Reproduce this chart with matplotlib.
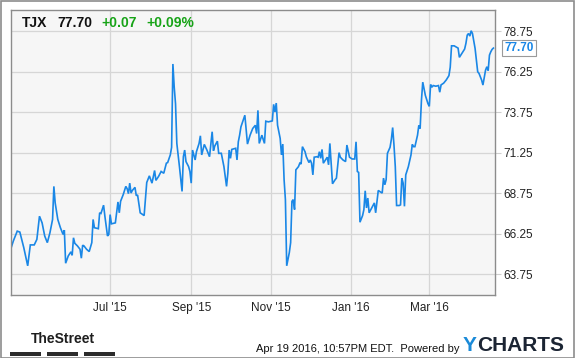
import matplotlib
matplotlib.use("Agg")
import matplotlib.pyplot as plt
import matplotlib.dates as mdates
import pandas as pd
from matplotlib.patches import Rectangle

# TJX daily close
dates = [
    "2015-04-16", "2015-04-18", "2015-04-21", "2015-04-23", "2015-04-26", "2015-04-29",
    "2015-05-01", "2015-05-04", "2015-05-06", "2015-05-08", "2015-05-10", "2015-05-12",
    "2015-05-14", "2015-05-16", "2015-05-18", "2015-05-19", "2015-05-20", "2015-05-22",
    "2015-05-24", "2015-05-26", "2015-05-27", "2015-05-28", "2015-05-30", "2015-06-01",
    "2015-06-02", "2015-06-03", "2015-06-04", "2015-06-06", "2015-06-08", "2015-06-09",
    "2015-06-10", "2015-06-11", "2015-06-13", "2015-06-15", "2015-06-17", "2015-06-18",
    "2015-06-19", "2015-06-22", "2015-06-23", "2015-06-24", "2015-06-26", "2015-06-27",
    "2015-06-29", "2015-06-30", "2015-07-01", "2015-07-02", "2015-07-05", "2015-07-07",
    "2015-07-08", "2015-07-09", "2015-07-11", "2015-07-13", "2015-07-14", "2015-07-15",
    "2015-07-16", "2015-07-17", "2015-07-18", "2015-07-20", "2015-07-21", "2015-07-22",
    "2015-07-24", "2015-07-27", "2015-07-29", "2015-07-31", "2015-08-02", "2015-08-04",
    "2015-08-05", "2015-08-07", "2015-08-09", "2015-08-11", "2015-08-13", "2015-08-14",
    "2015-08-16", "2015-08-17", "2015-08-18", "2015-08-19", "2015-08-20", "2015-08-21",
    "2015-08-23", "2015-08-25", "2015-08-26", "2015-08-27", "2015-08-28", "2015-08-30",
    "2015-08-31", "2015-09-01", "2015-09-02", "2015-09-04", "2015-09-05", "2015-09-07",
    "2015-09-08", "2015-09-09", "2015-09-11", "2015-09-13", "2015-09-15", "2015-09-17",
    "2015-09-18", "2015-09-19", "2015-09-21", "2015-09-22", "2015-09-24", "2015-09-26",
    "2015-09-28", "2015-09-29", "2015-09-30", "2015-10-01", "2015-10-02", "2015-10-05",
    "2015-10-06", "2015-10-07", "2015-10-08", "2015-10-09", "2015-10-12", "2015-10-14",
    "2015-10-16", "2015-10-18", "2015-10-20", "2015-10-21", "2015-10-22", "2015-10-23",
    "2015-10-25", "2015-10-27", "2015-10-28", "2015-10-30", "2015-11-02", "2015-11-03",
    "2015-11-04", "2015-11-05", "2015-11-06", "2015-11-08", "2015-11-09", "2015-11-10",
    "2015-11-11", "2015-11-12", "2015-11-13", "2015-11-15", "2015-11-16", "2015-11-17",
    "2015-11-18", "2015-11-19", "2015-11-20", "2015-11-22", "2015-11-23", "2015-11-24",
    "2015-11-25", "2015-11-27", "2015-11-28", "2015-11-30", "2015-12-01", "2015-12-02",
    "2015-12-03", "2015-12-04", "2015-12-06", "2015-12-07", "2015-12-08", "2015-12-09",
    "2015-12-10", "2015-12-11", "2015-12-13", "2015-12-14", "2015-12-15", "2015-12-16",
    "2015-12-18", "2015-12-20", "2015-12-21", "2015-12-23", "2015-12-24", "2015-12-26",
    "2015-12-28", "2015-12-29", "2015-12-31", "2016-01-02", "2016-01-04", "2016-01-05",
    "2016-01-06", "2016-01-07", "2016-01-08", "2016-01-10", "2016-01-11", "2016-01-12",
    "2016-01-13", "2016-01-14", "2016-01-15", "2016-01-17", "2016-01-19", "2016-01-20",
    "2016-01-22", "2016-01-23", "2016-01-25", "2016-01-26", "2016-01-27", "2016-01-28",
    "2016-01-29", "2016-01-31", "2016-02-01", "2016-02-02", "2016-02-03", "2016-02-04",
    "2016-02-05", "2016-02-07", "2016-02-08", "2016-02-09", "2016-02-10", "2016-02-11",
    "2016-02-12", "2016-02-14", "2016-02-16", "2016-02-17", "2016-02-18", "2016-02-19",
    "2016-02-21", "2016-02-22", "2016-02-23", "2016-02-24", "2016-02-25", "2016-02-27",
    "2016-02-29", "2016-03-01", "2016-03-02", "2016-03-03", "2016-03-04", "2016-03-06",
    "2016-03-08", "2016-03-09", "2016-03-10", "2016-03-12", "2016-03-14", "2016-03-16",
    "2016-03-17", "2016-03-18", "2016-03-20", "2016-03-23", "2016-03-24", "2016-03-28",
    "2016-03-29", "2016-03-30", "2016-03-31", "2016-04-01", "2016-04-02", "2016-04-03",
    "2016-04-05", "2016-04-07", "2016-04-08", "2016-04-10", "2016-04-11", "2016-04-13",
    "2016-04-14", "2016-04-15", "2016-04-16", "2016-04-17", "2016-04-18", "2016-04-19",
]
prices = [
    65.29, 65.80, 66.41, 66.35, 65.39, 64.27,
    65.56, 65.56, 65.90, 67.33, 66.92, 66.11,
    65.70, 66.31, 67.13, 69.17, 68.15, 67.13,
    66.62, 66.21, 66.47, 64.43, 64.88, 65.13,
    64.92, 66.00, 65.66, 65.50, 65.29, 64.74,
    65.54, 65.50, 65.29, 65.15, 65.70, 67.13,
    66.62, 66.56, 67.54, 67.50, 68.01, 67.33,
    66.11, 66.21, 67.43, 66.86, 66.92, 68.21,
    67.54, 68.25, 68.66, 69.17, 69.03, 68.72,
    69.37, 68.76, 68.92, 69.11, 68.60, 68.64,
    67.54, 67.37, 69.41, 69.82, 69.37, 70.15,
    69.54, 69.78, 70.09, 69.98, 70.60, 70.64,
    71.11, 71.58, 76.72, 75.29, 74.27, 71.82,
    70.39, 68.86, 71.00, 71.41, 70.70, 70.39,
    70.09, 69.37, 71.41, 70.80, 71.31, 71.82,
    72.29, 71.11, 71.76, 71.41, 71.00, 72.54,
    71.37, 71.66, 71.96, 71.21, 71.21, 70.39,
    69.17, 69.98, 71.41, 70.90, 71.45, 71.52,
    70.80, 71.92, 72.33, 72.84, 73.56, 71.78,
    72.33, 72.74, 72.94, 72.43, 73.86, 71.82,
    72.33, 71.82, 73.19, 73.15, 73.21, 74.23,
    73.76, 74.31, 72.94, 72.13, 71.11, 71.78,
    69.58, 68.35, 64.27, 65.09, 65.70, 68.25,
    68.35, 67.74, 70.19, 70.39, 70.60, 70.55,
    71.62, 71.31, 71.00, 70.64, 70.80, 70.60,
    69.88, 70.97, 71.00, 70.97, 71.31, 70.90,
    71.45, 70.60, 70.84, 70.97, 70.50, 71.82,
    69.33, 69.58, 69.68, 71.25, 70.97, 70.80,
    70.70, 71.72, 70.97, 70.86, 70.86, 71.92,
    70.09, 70.03, 66.96, 67.37, 67.74, 68.90,
    67.84, 68.45, 67.54, 67.84, 68.15, 67.54,
    68.92, 68.86, 68.76, 69.68, 69.27, 69.58,
    71.21, 71.58, 72.07, 72.80, 71.72, 70.39,
    67.99, 67.99, 68.03, 69.68, 69.37, 67.94,
    69.88, 70.39, 71.11, 71.76, 71.62, 71.62,
    72.33, 72.94, 72.74, 74.48, 75.60, 74.78,
    74.27, 74.11, 75.45, 75.29, 75.39, 75.35,
    75.39, 74.98, 75.43, 75.54, 75.74, 76.00,
    76.52, 77.84, 77.84, 77.70, 77.13, 77.64,
    77.99, 78.50, 78.60, 78.44, 78.77, 78.60,
    77.68, 76.24, 76.14, 75.73, 75.42, 76.34,
    76.55, 76.30, 77.27, 77.47, 77.62, 77.70,
]

ticker = "TJX"
last_price = "77.70"
change = "+0.07"
change_pct = "+0.09%"
month_ticks = ["2015-07-01", "2015-09-01", "2015-11-01", "2016-01-01", "2016-03-01"]
month_labels = ["Jul '15", "Sep '15", "Nov '15", "Jan '16", "Mar '16"]
price_ticks = [63.75, 66.25, 68.75, 71.25, 73.75, 76.25, 78.75]
stamp = "Apr 19 2016, 10:57PM EDT.  Powered by"

plt.rcParams["font.family"] = ["Liberation Sans", "DejaVu Sans"]

W, H = 575, 358
fig = plt.figure(figsize=(W / 100, H / 100), dpi=100)
fig.patch.set_facecolor("white")
# outer frame
fig.patches.append(Rectangle((0.5 / W, 0.5 / H), 1 - 1.5 / W, 1 - 1.5 / H,
                             transform=fig.transFigure, fill=False,
                             edgecolor="#8c8c8c", linewidth=1.2))

ax = fig.add_axes([10.7 / W, 1 - 295 / H, 484 / W, 285 / H])
ax.set_facecolor("#f6f6f6")

x = pd.to_datetime(dates)
ax.plot(x, prices, color="#1a87e6", linewidth=1.2, solid_joinstyle="miter")

ax.set_xlim(pd.Timestamp("2015-04-16"), pd.Timestamp("2016-04-20"))
ax.set_ylim(62.47, 80.05)

ax.set_xticks(pd.to_datetime(month_ticks))
ax.set_xticklabels(month_labels)
ax.set_yticks(price_ticks)
ax.set_yticklabels([f"{v:.2f}" for v in price_ticks])
ax.yaxis.tick_right()
ax.tick_params(axis="y", length=4, width=0.8, color="#cfcfcf", pad=2,
               labelsize=8.5, labelcolor="#222222")
ax.tick_params(axis="x", length=0, pad=5, labelsize=8.5, labelcolor="#222222")
ax.grid(True, color="#d6d6d6", linewidth=0.9)
ax.set_axisbelow(True)
for s in ax.spines.values():
    s.set_color("#8c8c8c")
    s.set_linewidth(1.0)

# last price box
ax.annotate(last_price, xy=(1.0, float(last_price)), xycoords=("axes fraction", "data"),
            xytext=(7, 0), textcoords="offset points", va="center", ha="left",
            fontsize=8.5, fontweight="bold", color="#1a87e6",
            bbox=dict(boxstyle="square,pad=0.2", fc="white", ec="#9a9a9a", lw=0.8),
            annotation_clip=False)

# header
hy = 1 - 23.3 / H
fig.text(22 / W, hy, ticker, fontsize=10, fontweight="bold", va="center", color="#111111")
fig.text(57 / W, hy, last_price, fontsize=10, fontweight="bold", va="center", color="#111111")
fig.text(101 / W, hy, change, fontsize=10, fontweight="bold", va="center", color="#17a317")
fig.text(146.5 / W, hy, change_pct, fontsize=10, fontweight="bold", va="center", color="#17a317")

# footer
fig.text(63 / W, 1 - 339 / H, "TheStreet", fontsize=10, fontweight="bold", ha="center",
         va="center", color="#1e1e1e", family=["Liberation Sans Narrow", "Liberation Sans"])
for bx in (10, 47, 84):
    fig.patches.append(Rectangle((bx / W, 1 - 356 / H), 31 / W, 4 / H,
                                 transform=fig.transFigure, color="#2b2b2b", lw=0))
fig.text(459 / W, 1 - 349 / H, stamp, fontsize=8, ha="right", va="center", color="#111111")
t = fig.text(463 / W, 1 - 345.5 / H, "Y", fontsize=15, fontweight="bold", va="center",
             color="#1a8ad8")
fig.canvas.draw()
bb = t.get_window_extent()
fig.text(bb.x1 / W, 1 - 345.5 / H, "CHARTS", fontsize=15, fontweight="bold", va="center",
         color="#1b2433")

fig.savefig("out.png", dpi=100)
print('done')
